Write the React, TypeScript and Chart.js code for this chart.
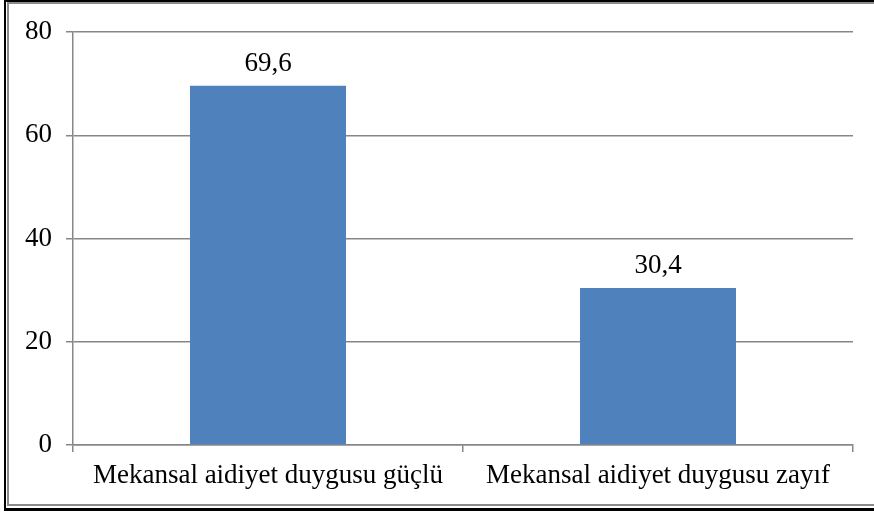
import React, { useEffect, useRef } from "react";
import { Chart, registerables } from "chart.js";

Chart.register(...registerables);

const categories = ["Mekansal aidiyet duygusu güçlü", "Mekansal aidiyet duygusu zayıf"];
const values = [69.6, 30.4];
const valueLabels = ["69,6", "30,4"];
const yMin = 0;
const yMax = 80;
const yStep = 20;

const FONT = "'Liberation Serif', 'Times New Roman', serif";
const FS = 27;

const framePlugin = {
  id: "frame",
  beforeDraw(chart: any) {
    const ctx = chart.ctx;
    const w = chart.width;
    ctx.save();
    ctx.fillStyle = "#ffffff";
    ctx.fillRect(0, 0, w, chart.height);
    ctx.strokeStyle = "#000000";
    ctx.lineWidth = 2;
    ctx.beginPath();
    ctx.moveTo(5, 511);
    ctx.lineTo(5, 1);
    ctx.lineTo(w, 1);
    ctx.stroke();
    ctx.lineWidth = 3;
    ctx.beginPath();
    ctx.moveTo(4, 509.5);
    ctx.lineTo(w, 509.5);
    ctx.stroke();
    ctx.strokeStyle = "#8a8a8a";
    ctx.lineWidth = 2;
    ctx.beginPath();
    ctx.moveTo(8, 505);
    ctx.lineTo(8, 3);
    ctx.lineTo(w, 3);
    ctx.moveTo(7, 505);
    ctx.lineTo(w, 505);
    ctx.stroke();
    ctx.restore();
  },
};

const valueLabelPlugin = {
  id: "valueLabels",
  afterDatasetsDraw(chart: any) {
    const ctx = chart.ctx;
    const meta = chart.getDatasetMeta(0);
    ctx.save();
    ctx.font = `${FS}px ${FONT}`;
    ctx.fillStyle = "#000000";
    ctx.textAlign = "center";
    ctx.textBaseline = "alphabetic";
    meta.data.forEach((bar: any, i: number) => {
      ctx.fillText(valueLabels[i], bar.x, bar.y - 15);
    });
    ctx.restore();
  },
};

export default function App() {
  const ref = useRef<HTMLCanvasElement | null>(null);
  useEffect(() => {
    if (!ref.current) return;
    const chart = new Chart(ref.current, {
      type: "bar",
      data: {
        labels: categories,
        datasets: [
          {
            data: values,
            backgroundColor: "#4F81BD",
            borderWidth: 0,
            barPercentage: 0.4,
            categoryPercentage: 1,
          },
        ],
      },
      options: {
        responsive: false,
        animation: false,
        layout: { padding: { left: 0, top: 32, right: 21, bottom: 0 } },
        plugins: {
          legend: { display: false },
          tooltip: { enabled: false },
        },
        scales: {
          x: {
            grid: {
              offset: true,
              drawOnChartArea: false,
              drawTicks: true,
              tickLength: 7,
              color: "#878787",
              lineWidth: 1.5,
            },
            border: { display: true, color: "#878787", width: 1.5 },
            ticks: {
              font: { family: FONT, size: FS },
              color: "#000000",
              padding: 8,
              maxRotation: 0,
              autoSkip: false,
            },
            afterFit(scale: any) {
              scale.height = 70;
            },
          },
          y: {
            min: yMin,
            max: yMax,
            ticks: {
              stepSize: yStep,
              font: { family: FONT, size: FS },
              color: "#000000",
              padding: 14,
            },
            grid: {
              color: "#878787",
              lineWidth: 1.5,
              tickLength: 7,
            },
            border: { display: true, color: "#878787", width: 1.5 },
            afterFit(scale: any) {
              scale.width = 73;
            },
          },
        },
      },
      plugins: [framePlugin, valueLabelPlugin],
    });
    return () => chart.destroy();
  }, []);
  return (
    <div style={{ position: "absolute", left: 0, top: 0, width: 874, height: 515 }}>
      <canvas ref={ref} width={874} height={515} style={{ display: "block" }} />
    </div>
  );
}
